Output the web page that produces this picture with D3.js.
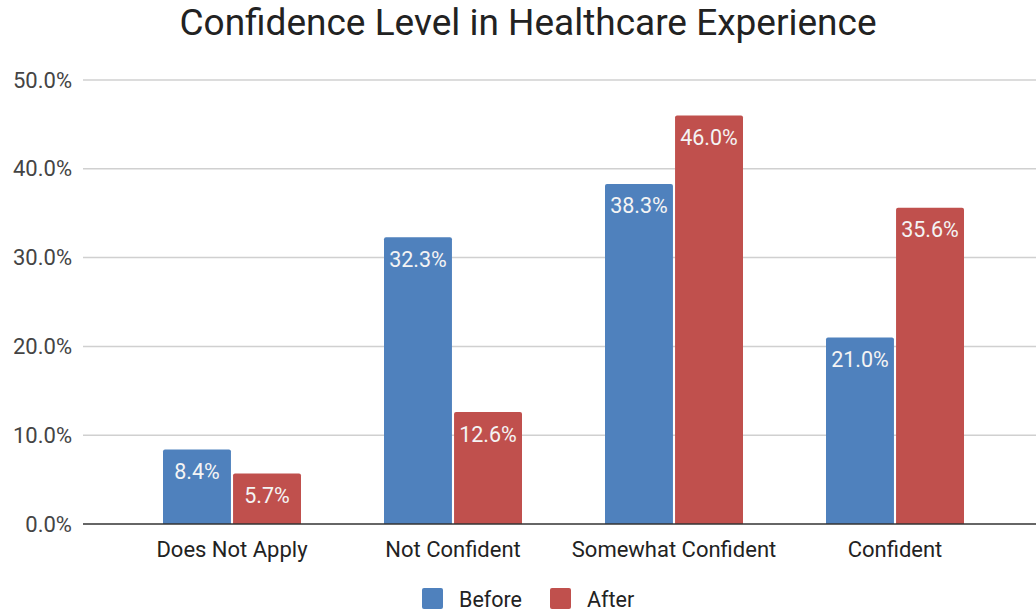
<!DOCTYPE html>
<html>
<head>
<meta charset="utf-8">
<script src="https://cdn.jsdelivr.net/npm/d3@7"></script>
<style>
  body { margin: 0; background: #fff; }
  text { font-family: Roboto, "Noto Sans", sans-serif; }
</style>
</head>
<body>
<svg id="chart" width="1036" height="613"></svg>
<script>
const categories = ["Does Not Apply", "Not Confident", "Somewhat Confident", "Confident"];
const seriesNames = ["Before", "After"];
const before = [8.4, 32.3, 38.3, 21.0];
const after = [5.7, 12.6, 46.0, 35.6];
const yTicks = [0, 10, 20, 30, 40, 50];
const colors = ["#4f81bd", "#c0504d"];

const svg = d3.select("#chart");
const plotLeft = 83;
const plotRight = 1036;
const FONT = 22;

const x = d3.scaleBand().domain(categories).range([121.5, 1005.5]);
const xs = d3.scaleBand().domain(seriesNames).range([0, 138]).paddingInner(0.03);
const y = d3.scaleLinear().domain([0, 50]).range([524, 80]);

svg.append("text")
  .attr("x", 528)
  .attr("y", 35)
  .attr("text-anchor", "middle")
  .attr("font-size", 37)
  .attr("fill", "#222")
  .text("Confidence Level in Healthcare Experience");

// gridlines
svg.append("g")
  .selectAll("line")
  .data(yTicks.filter((d) => d > 0))
  .join("line")
  .attr("x1", plotLeft)
  .attr("x2", plotRight)
  .attr("y1", (d) => y(d))
  .attr("y2", (d) => y(d))
  .attr("stroke", "#d0d0d0")
  .attr("stroke-width", 1.5);

// y axis labels
const yAxis = svg.append("g")
  .attr("transform", `translate(${plotLeft},0)`)
  .call(d3.axisLeft(y).tickValues(yTicks).tickFormat((d) => d.toFixed(1) + "%").tickSize(0).tickPadding(11));
yAxis.select(".domain").remove();
yAxis.selectAll("text").attr("font-size", FONT).attr("fill", "#444").attr("font-family", "Roboto, sans-serif");

const rows = categories.map((c, i) => ({ cat: c, values: [before[i], after[i]] }));

const groups = svg.append("g")
  .selectAll("g")
  .data(rows)
  .join("g")
  .attr("transform", (d) => `translate(${x(d.cat) + (x.bandwidth() - 138) / 2},0)`);

const bars = groups.selectAll("g")
  .data((d) => d.values.map((v, j) => ({ name: seriesNames[j], v, j })))
  .join("g");

bars.append("path")
  .attr("fill", (d) => colors[d.j])
  .attr("d", (d) => {
    const x0 = xs(d.name), w = xs.bandwidth();
    const top = y(d.v), bot = y(0), r = 2;
    return `M${x0},${bot}V${top + r}Q${x0},${top} ${x0 + r},${top}H${x0 + w - r}Q${x0 + w},${top} ${x0 + w},${top + r}V${bot}Z`;
  });

bars.append("text")
  .attr("x", (d) => xs(d.name) + xs.bandwidth() / 2)
  .attr("y", (d) => y(d.v) + 29.5)
  .attr("text-anchor", "middle")
  .attr("font-size", 21.5)
  .attr("fill", "#f4f4f4")
  .text((d) => d.v.toFixed(1) + "%");

// baseline
svg.append("line")
  .attr("x1", plotLeft)
  .attr("x2", plotRight)
  .attr("y1", y(0))
  .attr("y2", y(0))
  .attr("stroke", "#333")
  .attr("stroke-width", 1.5);

// x axis labels
const xAxis = svg.append("g")
  .attr("transform", `translate(0,${y(0)})`)
  .call(d3.axisBottom(x).tickSize(0).tickPadding(17));
xAxis.select(".domain").remove();
xAxis.selectAll("text").attr("font-size", FONT).attr("fill", "#222").attr("font-family", "Roboto, sans-serif");

// legend
const legend = svg.append("g").attr("transform", "translate(422,588)");
const legendX = [0, 128];
seriesNames.forEach((name, i) => {
  legend.append("rect")
    .attr("x", legendX[i])
    .attr("y", 0)
    .attr("width", 21)
    .attr("height", 21)
    .attr("rx", 2)
    .attr("fill", colors[i]);
  legend.append("text")
    .attr("x", legendX[i] + 37)
    .attr("y", 19)
    .attr("font-size", 21.5)
    .attr("fill", "#222")
    .text(name);
});
</script>
</body>
</html>
